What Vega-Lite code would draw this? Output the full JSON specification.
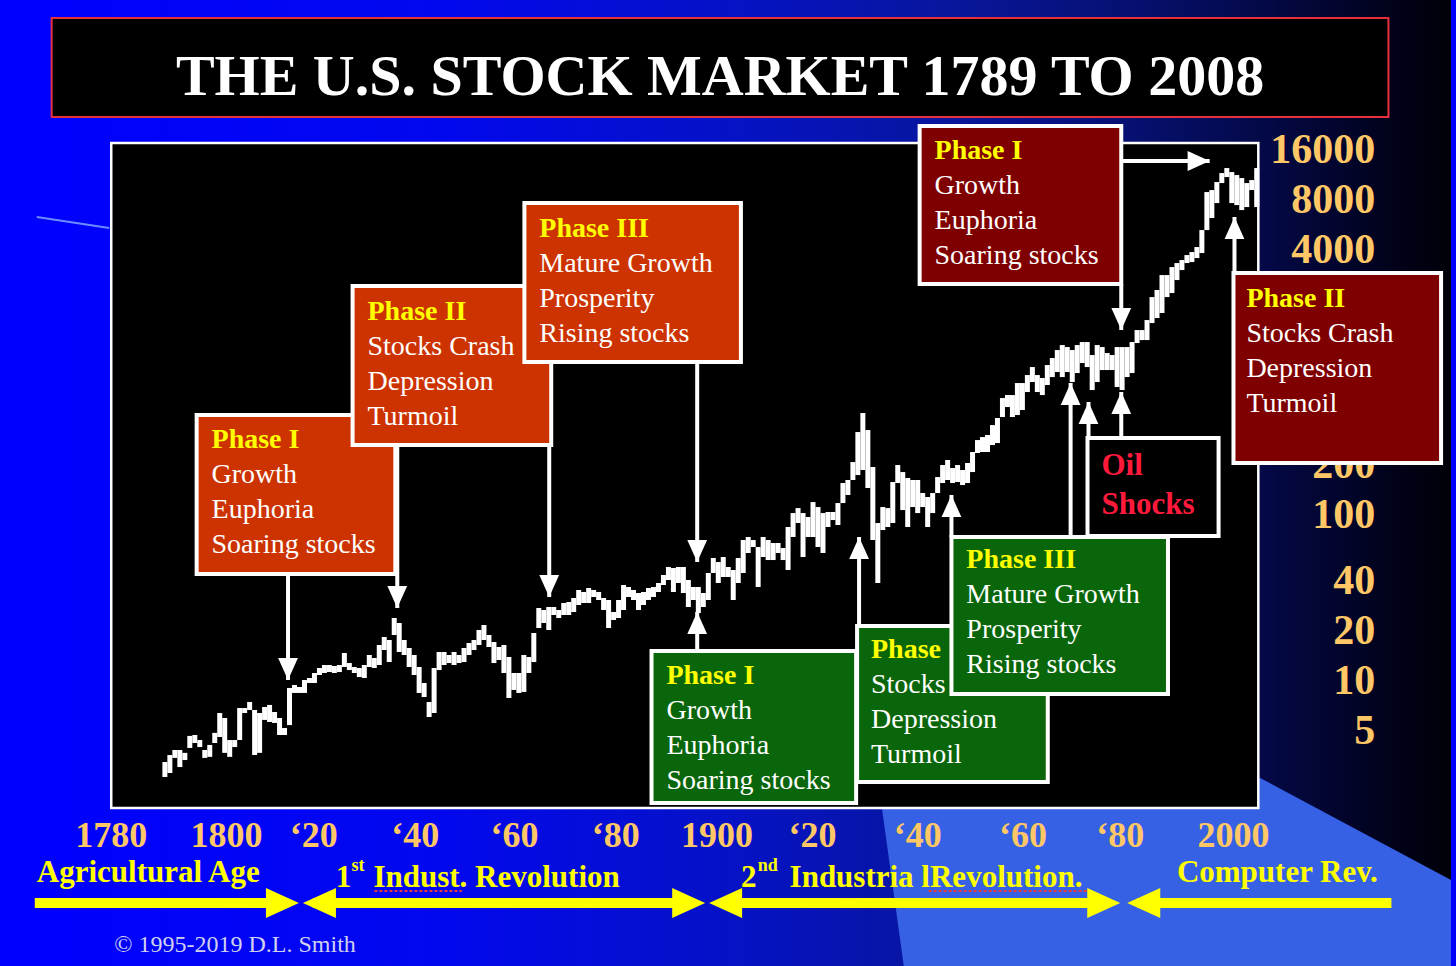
{
  "$schema": "https://vega.github.io/schema/vega-lite/v6.json",
  "width": 1456,
  "height": 966,
  "autosize": {"type": "none"},
  "padding": 0,
  "background": "#0000ff",
  "config": {"view": {"stroke": null}},
  "resolve": {"scale": {"shape": "independent"}},
  "datasets": {
    "market": [
      {"year":1789,"low":2.64,"high":3.25},{"year":1790,"low":2.79,"high":3.58},{"year":1791,"low":3.44,"high":3.84},{"year":1792,"low":3.03,"high":3.84},{"year":1793,"low":3.34,"high":3.69},{"year":1794,"low":3.95,"high":4.67},{"year":1795,"low":4.23,"high":4.73},{"year":1796,"low":4.0,"high":4.41},{"year":1797,"low":3.44,"high":3.84},{"year":1798,"low":3.49,"high":4.12},
      {"year":1799,"low":4.23,"high":4.87},{"year":1800,"low":4.6,"high":6.42},{"year":1801,"low":3.69,"high":5.99},{"year":1802,"low":3.49,"high":4.41},{"year":1803,"low":4.0,"high":4.41},{"year":1804,"low":4.41,"high":6.88},{"year":1805,"low":6.42,"high":6.88},{"year":1806,"low":6.69,"high":7.48},{"year":1807,"low":3.58,"high":6.69},{"year":1808,"low":3.69,"high":6.42},
      {"year":1809,"low":5.83,"high":6.98},{"year":1810,"low":5.67,"high":7.18},{"year":1811,"low":5.59,"high":6.51},{"year":1812,"low":4.73,"high":5.99},{"year":1813,"low":4.73,"high":5.21},{"year":1814,"low":5.43,"high":9.09},{"year":1815,"low":8.48,"high":9.47},{"year":1816,"low":8.48,"high":9.21},{"year":1817,"low":8.48,"high":10.15},{"year":1818,"low":9.74,"high":10.44},
      {"year":1819,"low":9.74,"high":11.19},{"year":1820,"low":10.88,"high":11.99},{"year":1821,"low":11.19,"high":12.5},{"year":1822,"low":11.34,"high":12.5},{"year":1823,"low":11.19,"high":12.33},{"year":1824,"low":11.34,"high":12.5},{"year":1825,"low":12.16,"high":14.77},{"year":1826,"low":11.66,"high":12.85},{"year":1827,"low":11.19,"high":12.16},{"year":1828,"low":10.58,"high":11.99},
      {"year":1829,"low":10.44,"high":12.5},{"year":1830,"low":12.16,"high":14.37},{"year":1831,"low":11.99,"high":13.78},{"year":1832,"low":12.5,"high":16.51},{"year":1833,"low":15.4,"high":18.45},{"year":1834,"low":13.03,"high":17.69},{"year":1835,"low":18.97,"high":24.02},{"year":1836,"low":14.98,"high":22.41},{"year":1837,"low":14.37,"high":17.69},{"year":1838,"low":12.16,"high":15.84},
      {"year":1839,"low":10.88,"high":14.37},{"year":1840,"low":8.48,"high":12.16},{"year":1841,"low":8.02,"high":9.74},{"year":1842,"low":6.07,"high":7.48},{"year":1843,"low":6.42,"high":11.99},{"year":1844,"low":11.66,"high":14.98},{"year":1845,"low":12.5,"high":14.98},{"year":1846,"low":12.85,"high":14.37},{"year":1847,"low":12.5,"high":14.98},{"year":1848,"low":12.85,"high":14.37},
      {"year":1849,"low":13.03,"high":15.84},{"year":1850,"low":14.37,"high":16.98},{"year":1851,"low":15.4,"high":17.69},{"year":1852,"low":16.51,"high":20.33},{"year":1853,"low":17.69,"high":21.79},{"year":1854,"low":16.06,"high":18.97},{"year":1855,"low":12.85,"high":17.21},{"year":1856,"low":13.4,"high":16.06},{"year":1857,"low":11.19,"high":16.51},{"year":1858,"low":7.91,"high":13.98},
      {"year":1859,"low":8.84,"high":11.19},{"year":1860,"low":8.48,"high":11.19},{"year":1861,"low":8.6,"high":14.37},{"year":1862,"low":11.19,"high":13.98},{"year":1863,"low":13.03,"high":19.5},{"year":1864,"low":20.9,"high":27.6},{"year":1865,"low":22.41,"high":26.84},{"year":1866,"low":20.33,"high":27.98},{"year":1867,"low":25.04,"high":27.98},{"year":1868,"low":24.02,"high":26.84},
      {"year":1869,"low":25.04,"high":29.58},{"year":1870,"low":25.04,"high":30.0},{"year":1871,"low":26.11,"high":31.7},{"year":1872,"low":28.77,"high":35.43},{"year":1873,"low":29.58,"high":34.46},{"year":1874,"low":29.58,"high":36.43},{"year":1875,"low":32.15,"high":35.43},{"year":1876,"low":30.84,"high":34.46},{"year":1877,"low":26.84,"high":31.7},{"year":1878,"low":20.9,"high":30.84},
      {"year":1879,"low":23.36,"high":26.11},{"year":1880,"low":24.02,"high":30.84},{"year":1881,"low":26.84,"high":37.98},{"year":1882,"low":32.15,"high":36.94},{"year":1883,"low":30.84,"high":35.43},{"year":1884,"low":26.84,"high":33.99},{"year":1885,"low":28.77,"high":34.46},{"year":1886,"low":30.84,"high":36.43},{"year":1887,"low":32.15,"high":36.94},{"year":1888,"low":34.46,"high":39.05},
      {"year":1889,"low":37.98,"high":43.64},{"year":1890,"low":40.71,"high":48.77},{"year":1891,"low":34.46,"high":48.09},{"year":1892,"low":39.05,"high":48.77},{"year":1893,"low":33.99,"high":48.77},{"year":1894,"low":27.98,"high":40.71},{"year":1895,"low":30.84,"high":36.94},{"year":1896,"low":25.75,"high":36.94},{"year":1897,"low":27.98,"high":33.99},{"year":1898,"low":30.84,"high":44.87},
      {"year":1899,"low":44.87,"high":55.26},{"year":1900,"low":39.05,"high":52.27},{"year":1901,"low":42.44,"high":56.03},{"year":1902,"low":42.44,"high":48.77},{"year":1903,"low":30.84,"high":46.78},{"year":1904,"low":39.05,"high":55.26},{"year":1905,"low":44.87,"high":70.95},{"year":1906,"low":59.23,"high":73.97},{"year":1907,"low":64.38,"high":70.95},{"year":1908,"low":36.94,"high":64.38},
      {"year":1909,"low":56.03,"high":73.97},{"year":1910,"low":53.74,"high":70.95},{"year":1911,"low":53.74,"high":68.06},{"year":1912,"low":59.23,"high":68.06},{"year":1913,"low":53.74,"high":63.49},{"year":1914,"low":46.78,"high":85.0},{"year":1915,"low":73.97,"high":103.2},{"year":1916,"low":89.85,"high":110.6},{"year":1917,"low":56.03,"high":103.2},{"year":1918,"low":73.97,"high":97.66},
      {"year":1919,"low":73.97,"high":120.2},{"year":1920,"low":64.38,"high":112.2},{"year":1921,"low":59.23,"high":103.2},{"year":1922,"low":85.0,"high":104.7},{"year":1923,"low":93.67,"high":104.7},{"year":1924,"low":87.39,"high":118.6},{"year":1925,"low":118.6,"high":156.6},{"year":1926,"low":132.6,"high":163.3},{"year":1927,"low":163.3,"high":209.6},{"year":1928,"low":175.0,"high":318.0},
      {"year":1929,"low":187.6,"high":414.1},{"year":1930,"low":146.1,"high":326.9},{"year":1931,"low":70.95,"high":195.6},{"year":1932,"low":39.05,"high":89.85},{"year":1933,"low":81.52,"high":112.2},{"year":1934,"low":85.0,"high":110.6},{"year":1935,"low":89.85,"high":158.8},{"year":1936,"low":156.6,"high":201.1},{"year":1937,"low":107.6,"high":182.4},{"year":1938,"low":85.0,"high":167.9},
      {"year":1939,"low":112.2,"high":163.3},{"year":1940,"low":103.2,"high":163.3},{"year":1941,"low":112.2,"high":136.3},{"year":1942,"low":85.0,"high":129.0},{"year":1943,"low":103.2,"high":136.3},{"year":1944,"low":136.3,"high":170.2},{"year":1945,"low":156.6,"high":201.1},{"year":1946,"low":163.3,"high":215.6},{"year":1947,"low":156.6,"high":192.9},{"year":1948,"low":158.8,"high":201.1},
      {"year":1949,"low":152.3,"high":187.6},{"year":1950,"low":156.6,"high":206.8},{"year":1951,"low":182.4,"high":240.9},{"year":1952,"low":237.6,"high":284.5},{"year":1953,"low":240.9,"high":296.6},{"year":1954,"low":240.9,"high":305.0},{"year":1955,"low":265.4,"high":350.4},{"year":1956,"low":272.9,"high":386.3},{"year":1957,"low":391.7,"high":509.9},{"year":1958,"low":450.0,"high":531.6},
      {"year":1959,"low":391.7,"high":531.6},{"year":1960,"low":402.7,"high":628.1},{"year":1961,"low":431.7,"high":628.1},{"year":1962,"low":554.3,"high":701.8},{"year":1963,"low":636.9,"high":784.3},{"year":1964,"low":554.3,"high":701.8},{"year":1965,"low":531.6,"high":673.2},{"year":1966,"low":610.9,"high":806.4},{"year":1967,"low":682.6,"high":888.8},{"year":1968,"low":731.7,"high":993.2},
      {"year":1969,"low":682.6,"high":1064.6},{"year":1970,"low":731.7,"high":1035.5},{"year":1971,"low":636.9,"high":993.2},{"year":1972,"low":721.6,"high":1064.6},{"year":1973,"low":829.1,"high":1110},{"year":1974,"low":784.3,"high":1110},{"year":1975,"low":569.9,"high":926.6},{"year":1976,"low":636.9,"high":1064.6},{"year":1977,"low":752.3,"high":1035.5},{"year":1978,"low":752.3,"high":952.7},
      {"year":1979,"low":752.3,"high":926.6},{"year":1980,"low":594.1,"high":1035.5},{"year":1981,"low":569.9,"high":1035.5},{"year":1982,"low":682.6,"high":1035.5},{"year":1983,"low":721.6,"high":1110},{"year":1984,"low":1094.6,"high":1311},{"year":1985,"low":1141,"high":1311},{"year":1986,"low":1141,"high":1507},{"year":1987,"low":1445,"high":2073},{"year":1988,"low":1549,"high":2286},
      {"year":1989,"low":1661,"high":2815},{"year":1990,"low":2073,"high":2815},{"year":1991,"low":2192,"high":3145},{"year":1992,"low":2626,"high":3325},{"year":1993,"low":3017,"high":3467},{"year":1994,"low":3325,"high":3716},{"year":1995,"low":3371,"high":3874},{"year":1996,"low":3564,"high":4153},{"year":1997,"low":3821,"high":5258},{"year":1998,"low":5258,"high":8915},
      {"year":1999,"low":6213,"high":9165},{"year":2000,"low":7652,"high":10243},{"year":2001,"low":10102,"high":11607},{"year":2002,"low":10980,"high":12442},{"year":2003,"low":7652,"high":11769},{"year":2004,"low":7442,"high":11289},{"year":2005,"low":6943,"high":10828},{"year":2006,"low":7238,"high":10102},{"year":2007,"low":9165,"high":10531},{"year":2008,"low":7238,"high":12442}
    ],
    "boxes": [
      {"id":"A","tier":1,"cycle":"first","x0":1795.37,"x1":1835.22,"top":403.0,"bottom":44.26},
      {"id":"B","tier":1,"cycle":"first","x0":1826.65,"x1":1866.49,"top":2418,"bottom":265.6},
      {"id":"C","tier":1,"cycle":"first","x0":1861.11,"x1":1904.54,"top":7660,"bottom":841.6},
      {"id":"D","tier":1,"cycle":"second","x0":1886.61,"x1":1927.65,"top":15.19,"bottom":1.841},
      {"id":"E","tier":1,"cycle":"second","x0":1927.84,"x1":1966.09,"top":21.49,"bottom":2.462},
      {"id":"F","tier":2,"cycle":"second","x0":1946.77,"x1":1990.2,"top":74.02,"bottom":8.36},
      {"id":"G","tier":2,"cycle":"oil","x0":1974.06,"x1":2000.35,"top":292.8,"bottom":75.06},
      {"id":"H","tier":2,"cycle":"third","x0":1940.39,"x1":1980.83,"top":22324,"bottom":2487},
      {"id":"I","tier":2,"cycle":"third","x0":2003.34,"x1":2044.98,"top":2896,"bottom":206.9}
    ],
    "boxText": [
      {"id":"A","tier":1,"x":1798.36,"hy":284.8,"by":212.7,"header":"Phase I","body":"Growth\nEuphoria\nSoaring stocks"},
      {"id":"B","tier":1,"x":1829.64,"hy":1685,"by":1259,"header":"Phase II","body":"Stocks Crash\nDepression\nTurmoil"},
      {"id":"C","tier":1,"x":1864.1,"hy":5338,"by":3987,"header":"Phase III","body":"Mature Growth\nProsperity\nRising stocks"},
      {"id":"D","tier":1,"x":1889.6,"hy":10.73,"by":8.017,"header":"Phase I","body":"Growth\nEuphoria\nSoaring stocks"},
      {"id":"E","tier":1,"x":1930.63,"hy":15.4,"by":11.5,"header":"Phase","body":"Stocks\nDepression\nTurmoil"},
      {"id":"F","tier":2,"x":1949.76,"hy":53.78,"by":40.17,"header":"Phase III","body":"Mature Growth\nProsperity\nRising stocks"},
      {"id":"H","tier":2,"x":1943.38,"hy":15768,"by":11778,"header":"Phase I","body":"Growth\nEuphoria\nSoaring stocks"},
      {"id":"I","tier":2,"x":2005.93,"hy":2018,"by":1507,"header":"Phase II","body":"Stocks Crash\nDepression\nTurmoil"}
    ],
    "arrows": [
      {"x":1813.7,"x2":1813.7,"y":44.26,"y2":10.15,"dir":"down"},
      {"x":1835.61,"x2":1835.61,"y":265.6,"y2":27.6,"dir":"down"},
      {"x":1866.09,"x2":1866.09,"y":265.6,"y2":32.16,"dir":"down"},
      {"x":1895.77,"x2":1895.77,"y":841.6,"y2":52.3,"dir":"down"},
      {"x":1895.77,"x2":1895.77,"y":15.19,"y2":26.12,"dir":"up"},
      {"x":1928.24,"x2":1928.24,"y":21.49,"y2":74.02,"dir":"up"},
      {"x":1946.77,"x2":1946.77,"y":74.02,"y2":132.6,"dir":"up"},
      {"x":1970.67,"x2":1970.67,"y":74.02,"y2":628.7,"dir":"up"},
      {"x":1974.26,"x2":1974.26,"y":292.8,"y2":482.6,"dir":"up"},
      {"x":1980.83,"x2":1980.83,"y":292.8,"y2":554.8,"dir":"up"},
      {"x":1980.83,"x2":1980.83,"y":2487,"y2":1312,"dir":"down"},
      {"x":1980.83,"x2":1998.56,"y":13729,"y2":13729,"dir":"right"},
      {"x":2003.54,"x2":2003.54,"y":2896,"y2":6307,"dir":"up"}
    ],
    "eraShafts": [
      {"x":1762.9,"x2":1812.7},{"x":1818.68,"x2":1894.38},{"x":1900.35,"x2":1978.04},{"x":1984.02,"x2":2035.02}
    ],
    "eraHeads": [
      {"x":1815.89,"dir":"right"},{"x":1816.69,"dir":"left"},{"x":1897.37,"dir":"right"},{"x":1898.16,"dir":"left"},{"x":1980.63,"dir":"right"},{"x":1982.03,"dir":"left"}
    ],
    "eras": [
      {"pos":1763.3,"level":0.6964,"label":"Agricultural Age"},
      {"pos":1823.26,"level":0.6488,"label":"1"},
      {"pos":1830.83,"level":0.6488,"label":"Indust. Revolution"},
      {"pos":1904.54,"level":0.6488,"label":"2"},
      {"pos":1914.3,"level":0.6488,"label":"Industria lRevolution."},
      {"pos":1991.99,"level":0.6964,"label":"Computer Rev."}
    ],
    "sups": [
      {"pos":1826.45,"level":0.7668,"label":"st"},
      {"pos":1907.92,"level":0.7668,"label":"nd"}
    ],
    "squiggles": [
      {"x":1831.03,"x2":1848.56},{"x":1942.19,"x2":1974.06}
    ],
    "rightLabels": [
      {"value":16000,"label":"16000"},{"value":8000,"label":"8000"},{"value":4000,"label":"4000"},{"value":200,"label":"200"},{"value":100,"label":"100"},{"value":40,"label":"40"},{"value":20,"label":"20"},{"value":10,"label":"10"},{"value":5,"label":"5"}
    ],
    "yearLabels": [
      {"pos":1778.24,"label":"1780"},{"pos":1801.35,"label":"1800"},{"pos":1818.88,"label":"‘20"},{"pos":1839.2,"label":"‘40"},{"pos":1859.12,"label":"‘60"},{"pos":1879.44,"label":"‘80"},{"pos":1899.76,"label":"1900"},{"pos":1918.88,"label":"‘20"},{"pos":1940.0,"label":"‘40"},{"pos":1961.11,"label":"‘60"},{"pos":1980.63,"label":"‘80"},{"pos":2003.34,"label":"2000"}
    ]
  },
  "layer": [
    {
      "data": {"values": [{}]},
      "mark": {"type": "rect", "fill": {"gradient": "linear", "x1": 0, "y1": 0, "x2": 1, "y2": 0, "stops": [
        {"offset": 0, "color": "#0000ff"},
        {"offset": 0.3, "color": "#0208ee"},
        {"offset": 0.5, "color": "#0612c6"},
        {"offset": 0.65, "color": "#08169e"},
        {"offset": 0.78, "color": "#061070"},
        {"offset": 0.88, "color": "#040842"},
        {"offset": 0.96, "color": "#01021a"},
        {"offset": 1, "color": "#000008"}
      ]}},
      "encoding": {
        "x": {"datum": 1756.93, "type": "quantitative", "scale": {"domain": [1756.93, 2046.97], "nice": false, "zero": false}, "axis": null},
        "x2": {"datum": 2046.97},
        "y": {"datum": 128450, "type": "quantitative", "scale": {"type": "log", "domain": [0.1911, 128450], "nice": false}, "axis": null},
        "y2": {"datum": 0.1911}
      }
    },
    {
      "data": {"values": [
        {"x": 1932.82, "top": 1.716, "bottom": 1.716},
        {"x": 1937.21, "top": 1.716, "bottom": 0.1911},
        {"x": 2008.32, "top": 2.638, "bottom": 0.1911},
        {"x": 2046.97, "top": 0.6311, "bottom": 0.1911}
      ]},
      "mark": {"type": "area", "color": "#3661e4", "interpolate": "linear"},
      "encoding": {
        "x": {"field": "x", "type": "quantitative", "scale": {"domain": [1756.93, 2046.97], "nice": false, "zero": false}, "axis": null},
        "y": {"field": "top", "type": "quantitative", "scale": {"type": "log", "domain": [0.1911, 128450], "nice": false}, "axis": null},
        "y2": {"field": "bottom"}
      }
    },
    {
      "data": {"values": [{}]},
      "mark": {"type": "rule", "color": "#6b8cff", "strokeWidth": 2},
      "encoding": {
        "x": {"datum": 1763.3, "type": "quantitative", "scale": {"domain": [1756.93, 2046.97], "nice": false, "zero": false}, "axis": null},
        "x2": {"datum": 1777.84},
        "y": {"datum": 6307, "type": "quantitative", "scale": {"type": "log", "domain": [0.1911, 128450], "nice": false}, "axis": null},
        "y2": {"datum": 5412}
      }
    },
    {
      "data": {"values": [{}]},
      "mark": {"type": "rect", "fill": "#000000", "stroke": "#e8303c", "strokeWidth": 2},
      "encoding": {
        "x": {"datum": 1766.29, "type": "quantitative", "scale": {"domain": [1756.93, 2046.97], "nice": false, "zero": false}, "axis": null},
        "x2": {"datum": 2034.42},
        "y": {"datum": 100066, "type": "quantitative", "scale": {"type": "log", "domain": [0.1911, 128450], "nice": false}, "axis": null},
        "y2": {"datum": 25295}
      }
    },
    {
      "data": {"values": [{"title": "THE U.S. STOCK MARKET 1789 TO 2008"}]},
      "mark": {"type": "text", "font": "Liberation Serif", "fontWeight": "bold", "fontSize": 58, "color": "#ffffff", "align": "center", "baseline": "middle"},
      "encoding": {
        "x": {"datum": 1900.35, "type": "quantitative", "scale": {"domain": [1756.93, 2046.97], "nice": false, "zero": false}, "axis": null},
        "y": {"datum": 43484, "type": "quantitative", "scale": {"type": "log", "domain": [0.1911, 128450], "nice": false}, "axis": null},
        "text": {"field": "title"}
      }
    },
    {
      "data": {"values": [{}]},
      "mark": {"type": "rect", "fill": "#000000", "stroke": "#ffffff", "strokeWidth": 2.5},
      "encoding": {
        "x": {"datum": 1778.24, "type": "quantitative", "scale": {"domain": [1756.93, 2046.97], "nice": false, "zero": false}, "axis": null},
        "x2": {"datum": 2008.32},
        "y": {"datum": 17627, "type": "quantitative", "scale": {"type": "log", "domain": [0.1911, 128450], "nice": false}, "axis": null},
        "y2": {"datum": 1.716}
      }
    },
    {
      "data": {"name": "market"},
      "mark": {"type": "bar", "color": "#ffffff", "width": 5.0},
      "encoding": {
        "x": {"field": "year", "type": "quantitative", "scale": {"domain": [1756.93, 2046.97], "nice": false, "zero": false}, "axis": null},
        "y": {"field": "low", "type": "quantitative", "scale": {"type": "log", "domain": [0.1911, 128450], "nice": false}, "axis": null},
        "y2": {"field": "high"}
      }
    },
    {
      "data": {"name": "rightLabels"},
      "mark": {"type": "text", "font": "Liberation Serif", "fontWeight": "bold", "fontSize": 42, "color": "#ffc766", "align": "right", "baseline": "middle"},
      "encoding": {
        "x": {"datum": 2031.8, "type": "quantitative", "scale": {"domain": [1756.93, 2046.97], "nice": false, "zero": false}, "axis": null},
        "y": {"field": "value", "type": "quantitative", "scale": {"type": "log", "domain": [0.1911, 128450], "nice": false}, "axis": null},
        "text": {"field": "label"}
      }
    },
    {
      "data": {"name": "yearLabels"},
      "mark": {"type": "text", "font": "Liberation Serif", "fontWeight": "bold", "fontSize": 36, "color": "#ffc766", "align": "center", "baseline": "middle"},
      "encoding": {
        "x": {"field": "pos", "type": "quantitative", "scale": {"domain": [1756.93, 2046.97], "nice": false, "zero": false}, "axis": null},
        "y": {"datum": 1.163, "type": "quantitative", "scale": {"type": "log", "domain": [0.1911, 128450], "nice": false}, "axis": null},
        "text": {"field": "label"}
      }
    },
    {
      "data": {"name": "eras"},
      "mark": {"type": "text", "font": "Liberation Serif", "fontWeight": "bold", "fontSize": 31, "color": "#ffff00", "align": "left", "baseline": "middle"},
      "encoding": {
        "x": {"field": "pos", "type": "quantitative", "scale": {"domain": [1756.93, 2046.97], "nice": false, "zero": false}, "axis": null},
        "y": {"field": "level", "type": "quantitative", "scale": {"type": "log", "domain": [0.1911, 128450], "nice": false}, "axis": null},
        "text": {"field": "label"}
      }
    },
    {
      "data": {"name": "sups"},
      "mark": {"type": "text", "font": "Liberation Serif", "fontWeight": "bold", "fontSize": 18, "color": "#ffff00", "align": "left", "baseline": "middle"},
      "encoding": {
        "x": {"field": "pos", "type": "quantitative", "scale": {"domain": [1756.93, 2046.97], "nice": false, "zero": false}, "axis": null},
        "y": {"field": "level", "type": "quantitative", "scale": {"type": "log", "domain": [0.1911, 128450], "nice": false}, "axis": null},
        "text": {"field": "label"}
      }
    },
    {
      "data": {"values": [{"note": "© 1995-2019 D.L. Smith"}]},
      "mark": {"type": "text", "font": "Liberation Serif", "fontSize": 24, "color": "#d0d0ee", "align": "left", "baseline": "middle"},
      "encoding": {
        "x": {"datum": 1778.84, "type": "quantitative", "scale": {"domain": [1756.93, 2046.97], "nice": false, "zero": false}, "axis": null},
        "y": {"datum": 0.2558, "type": "quantitative", "scale": {"type": "log", "domain": [0.1911, 128450], "nice": false}, "axis": null},
        "text": {"field": "note"}
      }
    },
    {
      "data": {"name": "eraShafts"},
      "mark": {"type": "rule", "color": "#ffff00", "strokeWidth": 10, "strokeCap": "butt"},
      "encoding": {
        "x": {"field": "x", "type": "quantitative", "scale": {"domain": [1756.93, 2046.97], "nice": false, "zero": false}, "axis": null},
        "x2": {"field": "x2"},
        "y": {"datum": 0.4584, "type": "quantitative", "scale": {"type": "log", "domain": [0.1911, 128450], "nice": false}, "axis": null}
      }
    },
    {
      "data": {"name": "eraHeads"},
      "mark": {"type": "point", "filled": true, "color": "#ffff00", "opacity": 1, "size": 900, "strokeWidth": 0},
      "encoding": {
        "x": {"field": "x", "type": "quantitative", "scale": {"domain": [1756.93, 2046.97], "nice": false, "zero": false}, "axis": null},
        "y": {"datum": 0.4584, "type": "quantitative", "scale": {"type": "log", "domain": [0.1911, 128450], "nice": false}, "axis": null},
        "shape": {"field": "dir", "type": "nominal", "scale": {"domain": ["right", "left"], "range": ["M-2.2,-1L0,0L-2.2,1Z", "M2.2,-1L0,0L2.2,1Z"]}, "legend": null}
      }
    },
    {
      "data": {"name": "squiggles"},
      "mark": {"type": "rule", "color": "#e83a3a", "strokeWidth": 2, "strokeDash": [3, 2]},
      "encoding": {
        "x": {"field": "x", "type": "quantitative", "scale": {"domain": [1756.93, 2046.97], "nice": false, "zero": false}, "axis": null},
        "x2": {"field": "x2"},
        "y": {"datum": 0.5416, "type": "quantitative", "scale": {"type": "log", "domain": [0.1911, 128450], "nice": false}, "axis": null}
      }
    },
    {
      "data": {"name": "arrows"},
      "mark": {"type": "rule", "color": "#ffffff", "strokeWidth": 4},
      "encoding": {
        "x": {"field": "x", "type": "quantitative", "scale": {"domain": [1756.93, 2046.97], "nice": false, "zero": false}, "axis": null},
        "x2": {"field": "x2"},
        "y": {"field": "y", "type": "quantitative", "scale": {"type": "log", "domain": [0.1911, 128450], "nice": false}, "axis": null},
        "y2": {"field": "y2"}
      }
    },
    {
      "data": {"name": "arrows"},
      "mark": {"type": "point", "filled": true, "color": "#ffffff", "opacity": 1, "size": 484, "strokeWidth": 0},
      "encoding": {
        "x": {"field": "x2", "type": "quantitative", "scale": {"domain": [1756.93, 2046.97], "nice": false, "zero": false}, "axis": null},
        "y": {"field": "y2", "type": "quantitative", "scale": {"type": "log", "domain": [0.1911, 128450], "nice": false}, "axis": null},
        "shape": {"field": "dir", "type": "nominal", "scale": {"domain": ["down", "up", "right"], "range": ["M-0.9,-2L0.9,-2L0,0Z", "M-0.9,2L0.9,2L0,0Z", "M-2,-0.9L-2,0.9L0,0Z"]}, "legend": null}
      }
    },
    {
      "data": {"name": "boxes"},
      "transform": [{"filter": "datum.tier == 1"}],
      "mark": {"type": "rect", "stroke": "#ffffff", "strokeWidth": 4},
      "encoding": {
        "x": {"field": "x0", "type": "quantitative", "scale": {"domain": [1756.93, 2046.97], "nice": false, "zero": false}, "axis": null},
        "x2": {"field": "x1"},
        "y": {"field": "top", "type": "quantitative", "scale": {"type": "log", "domain": [0.1911, 128450], "nice": false}, "axis": null},
        "y2": {"field": "bottom"},
        "fill": {"field": "cycle", "type": "nominal", "scale": {"domain": ["first", "second", "third", "oil"], "range": ["#cc3300", "#0a660a", "#7f0000", "#000000"]}, "legend": null}
      }
    },
    {
      "data": {"name": "boxText"},
      "transform": [{"filter": "datum.tier == 1"}],
      "mark": {"type": "text", "font": "Liberation Serif", "fontWeight": "bold", "fontSize": 28, "color": "#ffff00", "align": "left", "baseline": "middle"},
      "encoding": {
        "x": {"field": "x", "type": "quantitative", "scale": {"domain": [1756.93, 2046.97], "nice": false, "zero": false}, "axis": null},
        "y": {"field": "hy", "type": "quantitative", "scale": {"type": "log", "domain": [0.1911, 128450], "nice": false}, "axis": null},
        "text": {"field": "header"}
      }
    },
    {
      "data": {"name": "boxText"},
      "transform": [{"filter": "datum.tier == 1"}],
      "mark": {"type": "text", "font": "Liberation Serif", "fontSize": 28, "color": "#ffffff", "align": "left", "baseline": "top", "lineBreak": "\n", "lineHeight": 35},
      "encoding": {
        "x": {"field": "x", "type": "quantitative", "scale": {"domain": [1756.93, 2046.97], "nice": false, "zero": false}, "axis": null},
        "y": {"field": "by", "type": "quantitative", "scale": {"type": "log", "domain": [0.1911, 128450], "nice": false}, "axis": null},
        "text": {"field": "body"}
      }
    },
    {
      "data": {"name": "boxes"},
      "transform": [{"filter": "datum.tier == 2"}],
      "mark": {"type": "rect", "stroke": "#ffffff", "strokeWidth": 4},
      "encoding": {
        "x": {"field": "x0", "type": "quantitative", "scale": {"domain": [1756.93, 2046.97], "nice": false, "zero": false}, "axis": null},
        "x2": {"field": "x1"},
        "y": {"field": "top", "type": "quantitative", "scale": {"type": "log", "domain": [0.1911, 128450], "nice": false}, "axis": null},
        "y2": {"field": "bottom"},
        "fill": {"field": "cycle", "type": "nominal", "scale": {"domain": ["first", "second", "third", "oil"], "range": ["#cc3300", "#0a660a", "#7f0000", "#000000"]}, "legend": null}
      }
    },
    {
      "data": {"name": "boxText"},
      "transform": [{"filter": "datum.tier == 2"}],
      "mark": {"type": "text", "font": "Liberation Serif", "fontWeight": "bold", "fontSize": 28, "color": "#ffff00", "align": "left", "baseline": "middle"},
      "encoding": {
        "x": {"field": "x", "type": "quantitative", "scale": {"domain": [1756.93, 2046.97], "nice": false, "zero": false}, "axis": null},
        "y": {"field": "hy", "type": "quantitative", "scale": {"type": "log", "domain": [0.1911, 128450], "nice": false}, "axis": null},
        "text": {"field": "header"}
      }
    },
    {
      "data": {"name": "boxText"},
      "transform": [{"filter": "datum.tier == 2"}],
      "mark": {"type": "text", "font": "Liberation Serif", "fontSize": 28, "color": "#ffffff", "align": "left", "baseline": "top", "lineBreak": "\n", "lineHeight": 35},
      "encoding": {
        "x": {"field": "x", "type": "quantitative", "scale": {"domain": [1756.93, 2046.97], "nice": false, "zero": false}, "axis": null},
        "y": {"field": "by", "type": "quantitative", "scale": {"type": "log", "domain": [0.1911, 128450], "nice": false}, "axis": null},
        "text": {"field": "body"}
      }
    },
    {
      "data": {"values": [{"pos": 1976.85, "level": 244.3, "label": "Oil\nShocks"}]},
      "mark": {"type": "text", "font": "Liberation Serif", "fontWeight": "bold", "fontSize": 31, "color": "#ff1a3c", "align": "left", "baseline": "top", "lineBreak": "\n", "lineHeight": 39},
      "encoding": {
        "x": {"field": "pos", "type": "quantitative", "scale": {"domain": [1756.93, 2046.97], "nice": false, "zero": false}, "axis": null},
        "y": {"field": "level", "type": "quantitative", "scale": {"type": "log", "domain": [0.1911, 128450], "nice": false}, "axis": null},
        "text": {"field": "label"}
      }
    }
  ]
}
